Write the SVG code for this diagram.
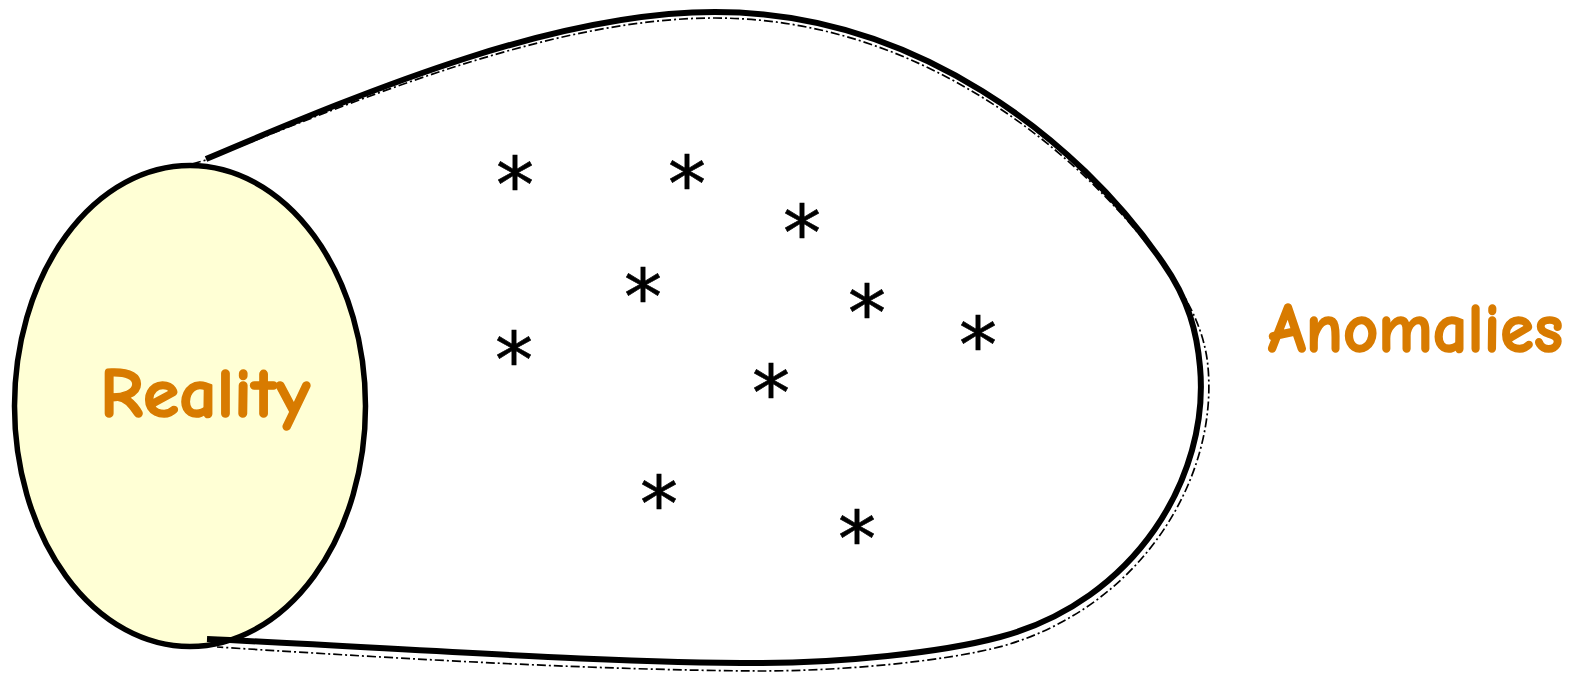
<svg xmlns="http://www.w3.org/2000/svg" width="1578" height="673" viewBox="0 0 1578 673">
<style>
.label{font-family:"Comic Sans MS","Comic Neue",Lato,"Liberation Sans",sans-serif;font-weight:bold;font-size:70px;fill:#D87B00;stroke:#D87B00;stroke-width:1.6;stroke-linejoin:round}
.thick{fill:none;stroke:#000;stroke-width:6}
.dash{fill:none;stroke:#000;stroke-width:1.7;stroke-dasharray:9 3 2 3}
.star{font-family:"DejaVu Sans",sans-serif;font-size:76px;fill:#000;stroke:#000;stroke-width:0.6;text-anchor:middle}
</style>
<rect width="1578" height="673" fill="#fff"/>
<g id="reality">
<ellipse cx="190" cy="406" rx="175.5" ry="240.5" fill="#FFFFD5" stroke="#000" stroke-width="5.5"/>
<text class="label" x="100" y="417" textLength="210" lengthAdjust="spacingAndGlyphs">Reality</text>
</g>
<g id="anomalies-region">
<path class="dash" d="M192,164 L206,160 C380,90 560,18 715,18 C912,18 1072,142 1161,262 C1190,300 1205,333 1208,367 C1218,478 1142,606 1003,646 C943,662 840,671 760,671 C600,670 420,660 217,647"/>
<path class="thick" d="M206,159 C380,85 560,12 715,12 C915,12 1078,139 1163,263 C1189,300 1197,333 1200,367 C1210,477 1135,601 1000,637 C940,653 840,663 760,663 C600,663 400,648 207,639"/>
</g>
<g id="anomalies-label">
<text class="label" x="1268" y="352" textLength="295" lengthAdjust="spacingAndGlyphs">Anomalies</text>
</g>
<g id="asterisks">
<text class="star" x="515" y="212">*</text>
<text class="star" x="687" y="211">*</text>
<text class="star" x="802" y="260">*</text>
<text class="star" x="643" y="324">*</text>
<text class="star" x="867" y="340">*</text>
<text class="star" x="978" y="372">*</text>
<text class="star" x="514" y="387">*</text>
<text class="star" x="771" y="420">*</text>
<text class="star" x="659" y="531">*</text>
<text class="star" x="857" y="566">*</text>
</g>
</svg>
